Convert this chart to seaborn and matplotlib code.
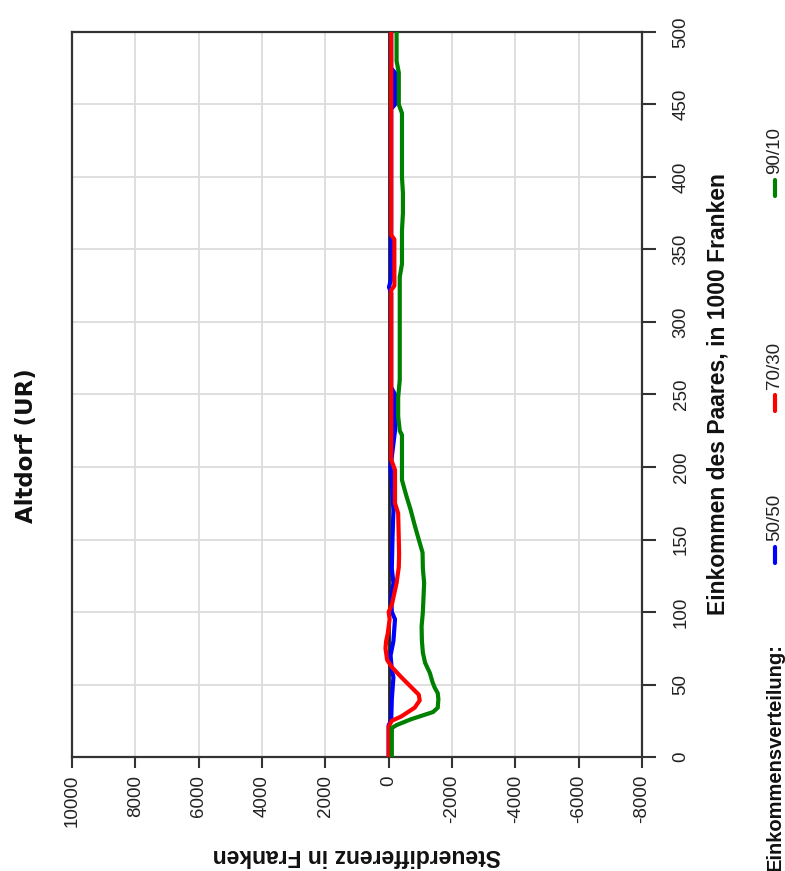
import matplotlib
matplotlib.use('Agg')
import matplotlib.pyplot as plt
from matplotlib.lines import Line2D
import seaborn as sns

# income of the couple (1000 CHF) and tax difference (CHF) per income split
blue_income = [0, 22, 25, 40, 55, 60, 70, 80, 95, 100, 110, 120, 130, 150, 170, 190, 200,
               225, 250, 255, 320, 324, 330, 350, 447, 450, 472, 475, 500]
blue_diff = [0, 0, -80, -100, -150, -100, -60, -150, -200, -100, -80, -150, -100, -120, -150,
             -100, -60, -200, -200, -80, -80, -10, -80, -80, -80, -200, -200, -80, -80]

red_income = [0, 21, 25, 28, 34, 39, 43, 48, 55, 62, 67, 75, 80, 85, 90, 95, 100, 105, 110,
              115, 120, 131, 140, 150, 168, 175, 198, 205, 250, 322, 325, 357, 360, 500]
red_diff = [0, 0, -100, -400, -820, -980, -950, -720, -400, -100, 50, 100, 80, 30, 0, -30, 0,
            -100, -150, -200, -250, -320, -330, -320, -300, -200, -200, -80, -80, -80, -180,
            -180, -80, -80]

green_income = [0, 20, 22, 26, 31, 34, 40, 44, 48, 52, 58, 65, 72, 80, 90, 100, 110, 120, 130,
                141, 150, 160, 170, 180, 191, 200, 210, 222, 225, 235, 248, 260, 280, 300, 331,
                340, 363, 375, 389, 400, 420, 444, 450, 472, 480, 500]
green_diff = [-100, -100, -250, -700, -1400, -1550, -1570, -1550, -1450, -1380, -1300, -1150,
              -1080, -1050, -1040, -1080, -1100, -1120, -1080, -1070, -950, -820, -700, -560,
              -420, -420, -420, -420, -350, -300, -300, -350, -350, -350, -350, -420, -420,
              -450, -450, -420, -420, -420, -320, -320, -250, -250]

series_names = ['50/50', '70/30', '90/10']
series_colors = ['#0000ff', '#ff0000', '#008000']

diff_ticks = list(range(10000, -8001, -2000))
income_ticks = list(range(0, 501, 50))

sns.set_theme(style='whitegrid')
plt.rcParams['font.family'] = ['Liberation Sans', 'DejaVu Sans']
plt.rcParams['axes.unicode_minus'] = False

W, H = 785, 871
fig = plt.figure(figsize=(W / 100, H / 100), dpi=100)
ax = fig.add_axes([72 / W, (H - 757) / H, 570 / W, 725 / H])

ax.axvline(0, color='#222222', lw=2, zorder=2)
for inc, dif, col in zip([blue_income, red_income, green_income],
                         [blue_diff, red_diff, green_diff], series_colors):
    sns.lineplot(x=dif, y=inc, sort=False, estimator=None, color=col, lw=3, ax=ax, zorder=3)

ax.set_xlim(10000, -8000)
ax.set_ylim(0, 500)
ax.set_xticks(diff_ticks)
ax.set_yticks(income_ticks)
ax.yaxis.tick_right()
ax.yaxis.set_label_position('right')
ax.grid(True, color='#dcdcdc', lw=1.3)
for s in ax.spines.values():
    s.set_color('#333333')
    s.set_linewidth(1.6)

ax.tick_params(axis='x', bottom=True, direction='out', length=8, width=1.5, color='#333333',
               labelsize=13.5, labelcolor='#222222', pad=5, labelrotation=90)
ax.tick_params(axis='y', right=True, left=False, direction='out', length=10, width=1.5,
               color='#333333', labelsize=13.5, labelcolor='#222222', pad=12, labelrotation=90)
for lab in ax.get_yticklabels():
    lab.set_va('center')

ax.set_xlabel('Steuerdifferenz in Franken', rotation=180, fontsize=16.5, fontweight='bold',
              labelpad=12, color='#111111')
ax.set_ylabel('Einkommen des Paares, in 1000 Franken', rotation=90, fontsize=16.5,
              fontweight='bold', labelpad=12, color='#111111')

fig.text(27 / W, 1 - 446 / H, 'Altdorf (UR)', rotation=90, fontsize=16.5, fontweight='bold',
         family='DejaVu Sans', ha='center', va='center', color='#111111')

# legend, rotated like the rest of the chart
fig.text(775 / W, 1 - 757 / H, 'Einkommensverteilung:', rotation=90, fontsize=14.5,
         fontweight='bold', ha='center', va='center', color='#111111')
leg_y = [555, 403, 188]
for name, col, ly in zip(series_names, series_colors, leg_y):
    fig.add_artist(Line2D([775 / W, 775 / W], [1 - (ly + 8) / H, 1 - (ly - 8) / H],
                          transform=fig.transFigure, color=col, lw=3))
    fig.text(775 / W, 1 - (ly - 14) / H, name, rotation=90, fontsize=13.5, color='#222222',
             ha='center', va='bottom')

fig.savefig('out.png', dpi=100)
